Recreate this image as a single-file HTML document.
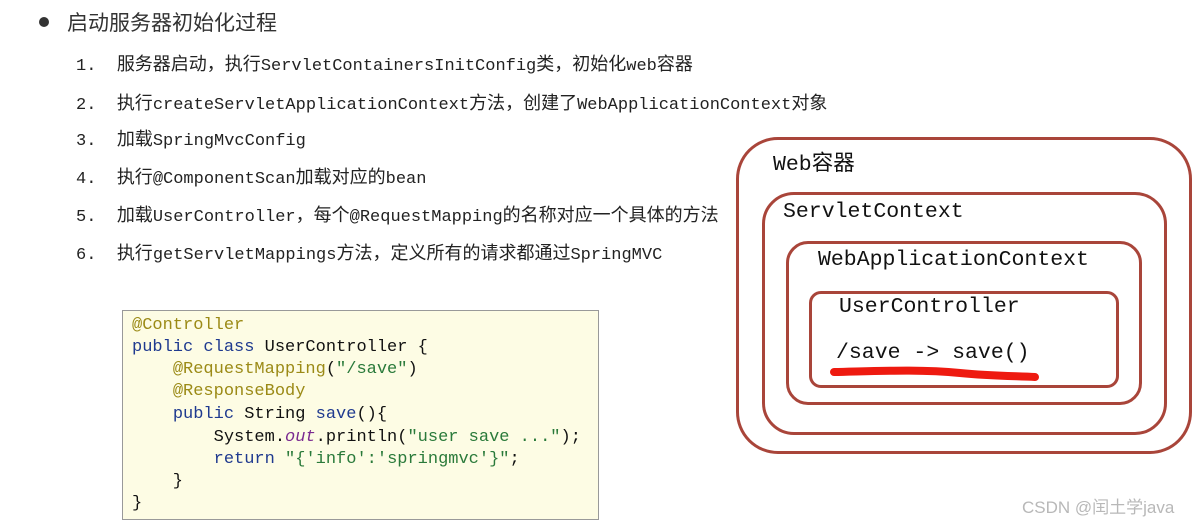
<!DOCTYPE html>
<html><head><meta charset="utf-8"><style>
body{margin:0;width:1196px;height:524px;background:#fff;position:relative;overflow:hidden;font-family:"Liberation Mono","Noto Sans CJK SC",monospace;color:#222}
.a{position:absolute;white-space:pre}
.l{font-size:17px;left:76px}
.cj{font-family:"Noto Sans CJK SC",sans-serif;font-size:18px}
.box{position:absolute;border:3px solid #a9453a;box-sizing:border-box}
.bl{position:absolute;font-size:21.5px;white-space:pre;color:#111}
.code{position:absolute;left:122px;top:310px;width:477px;height:210px;background:#fdfce4;border:1px solid #999;box-sizing:border-box}
.code div{position:absolute;left:9px;font-size:17px;white-space:pre;color:#111}
.code .an,.an{color:#9b8a16}.kw{color:#1f3a8f}.st{color:#2a7a3a}.it{color:#7a2a90;font-style:italic}
</style></head><body>
<div class="a" style="left:39px;top:17px;width:10px;height:10px;border-radius:50%;background:#333"></div>
<div class="a" style="left:67px;top:7px;font-family:'Noto Sans CJK SC',sans-serif;font-size:21px;color:#333">启动服务器初始化过程</div>

<div class="a l" style="top:50px">1.  <span class="cj">服务器启动，执行</span>ServletContainersInitConfig<span class="cj">类，初始化</span>web<span class="cj">容器</span></div>
<div class="a l" style="top:89px">2.  <span class="cj">执行</span>createServletApplicationContext<span class="cj">方法，创建了</span>WebApplicationContext<span class="cj">对象</span></div>
<div class="a l" style="top:125px">3.  <span class="cj">加载</span>SpringMvcConfig</div>
<div class="a l" style="top:163px">4.  <span class="cj">执行</span>@ComponentScan<span class="cj">加载对应的</span>bean</div>
<div class="a l" style="top:201px">5.  <span class="cj">加载</span>UserController<span class="cj">，每个</span>@RequestMapping<span class="cj">的名称对应一个具体的方法</span></div>
<div class="a l" style="top:239px">6.  <span class="cj">执行</span>getServletMappings<span class="cj">方法，定义所有的请求都通过</span>SpringMVC</div>

<div class="code">
<div style="top:5px" class="an">@Controller</div>
<div style="top:27px"><span class="kw">public class</span> UserController {</div>
<div style="top:49px">    <span class="an">@RequestMapping</span>(<span class="st">"/save"</span>)</div>
<div style="top:71px">    <span class="an">@ResponseBody</span></div>
<div style="top:94px">    <span class="kw">public</span> String <span class="kw">save</span>(){</div>
<div style="top:117px">        System.<span class="it">out</span>.println(<span class="st">"user save ..."</span>);</div>
<div style="top:139px">        <span class="kw">return</span> <span class="st">"{'info':'springmvc'}"</span>;</div>
<div style="top:161px">    }</div>
<div style="top:183px">}</div>
</div>

<div class="box" style="left:736px;top:137px;width:456px;height:317px;border-radius:42px"></div>
<div class="box" style="left:762px;top:192px;width:405px;height:243px;border-radius:32px"></div>
<div class="box" style="left:786px;top:241px;width:356px;height:164px;border-radius:22px"></div>
<div class="box" style="left:809px;top:291px;width:310px;height:97px;border-radius:12px"></div>
<div class="bl" style="left:773px;top:146px;font-family:'Liberation Mono','Noto Sans CJK SC',monospace">Web<span style="font-family:'Noto Sans CJK SC',sans-serif">容器</span></div>
<div class="bl" style="left:783px;top:200px">ServletContext</div>
<div class="bl" style="left:818px;top:248px">WebApplicationContext</div>
<div class="bl" style="left:839px;top:295px">UserController</div>
<div class="bl" style="left:836px;top:341px">/save -&gt; save()</div>
<svg class="a" style="left:0;top:0" width="1196" height="524"><path d="M834 372 C880 371 920 369 960 373 C990 376 1015 376 1035 377" stroke="#ee1a10" stroke-width="8" fill="none" stroke-linecap="round"/></svg>
<div class="a" style="left:1022px;top:493px;font-family:'Liberation Sans','Noto Sans CJK SC',sans-serif;font-size:17px;color:#b8b8b8">CSDN @闰土学java</div>
</body></html>
